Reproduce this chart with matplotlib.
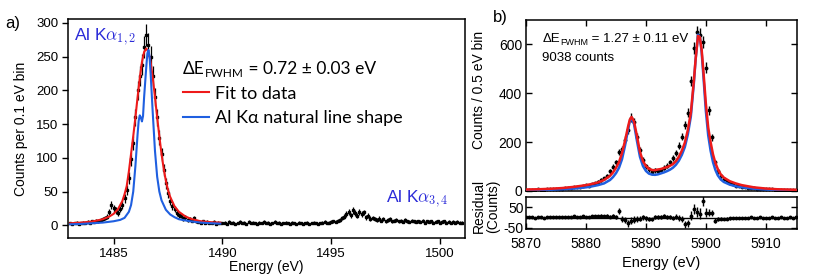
import numpy as np
import matplotlib
matplotlib.use("Agg")
import matplotlib.pyplot as plt

plt.rcParams["font.family"] = ["Liberation Sans", "DejaVu Sans"]
plt.rcParams["mathtext.fontset"] = "cm"
plt.rcParams["font.size"] = 9.5
plt.rcParams["axes.unicode_minus"] = False

# ── panel a: Al Kα, 0.1 eV bins from 1483.0 eV ──
counts_a = [
    3, 2, 3, 4, 2, 3, 4, 3, 5, 4,
    6, 5, 7, 6, 8, 9, 11, 13, 20, 30,
    25, 22, 18, 24, 30, 40, 52, 70, 98, 122,
    160, 200, 222, 238, 265, 282, 268, 250, 222, 190,
    160, 130, 105, 82, 62, 48, 36, 28, 24, 18,
    15, 14, 10, 12, 8, 9, 7, 11, 6, 5,
    4, 6, 3, 5, 4, 3, 5, 2, 4, 3,
    3, 4, 2, 5, 3, 4, 2, 3, 5, 3,
    4, 2, 5, 3, 4, 3, 2, 4, 3, 5,
    3, 4, 2, 3, 5, 3, 4, 2, 3, 4,
    3, 2, 4, 3, 2, 4, 3, 2, 3, 4,
    2, 3, 4, 3, 2, 3, 4, 5, 3, 4,
    5, 6, 5, 7, 8, 11, 13, 17, 20, 15,
    22, 18, 14, 20, 17, 19, 12, 14, 10, 11,
    9, 8, 10, 7, 9, 6, 8, 9, 6, 7,
    8, 6, 7, 5, 8, 6, 5, 7, 6, 5,
    6, 5, 7, 4, 6, 5, 6, 4, 5, 6,
    4, 5, 6, 4, 5, 3, 5, 4, 5, 4,
    4,
]
energy_a = np.round(1483.0 + 0.1 * np.arange(len(counts_a)), 1)

fit_a_e = [1483.0, 1483.5, 1484.0, 1484.5, 1484.8, 1485.0, 1485.2, 1485.4, 1485.5,
           1485.6, 1485.7, 1485.8, 1485.9, 1486.0, 1486.1, 1486.2, 1486.3, 1486.4,
           1486.5, 1486.6, 1486.7, 1486.8, 1486.9, 1487.0, 1487.1, 1487.2, 1487.3,
           1487.4, 1487.5, 1487.6, 1487.8, 1488.0, 1488.3, 1488.6, 1489.0, 1489.5, 1489.9]
fit_a_y = [3, 4, 5.5, 9, 13, 17, 24, 36, 46,
           58, 80, 106, 132, 160, 190, 218, 242, 257,
           262, 257, 242, 218, 190, 160, 132, 106, 84,
           66, 52, 42, 28, 20, 13, 9, 6, 4.5, 4]

nat_a_e = [1483.0, 1483.5, 1484.0, 1484.5, 1485.0, 1485.3, 1485.5, 1485.7, 1485.8,
           1485.9, 1486.0, 1486.1, 1486.15, 1486.2, 1486.25, 1486.3, 1486.35, 1486.4,
           1486.5, 1486.55, 1486.6, 1486.65, 1486.7, 1486.8, 1486.9, 1487.0, 1487.1,
           1487.2, 1487.4, 1487.6, 1487.8, 1488.0, 1488.5, 1489.0, 1489.5, 1489.9]
nat_a_y = [1.5, 2, 3, 4, 6, 8, 11, 20, 30,
           50, 88, 135, 155, 163, 160, 154, 162, 190,
           235, 255, 260, 250, 225, 165, 110, 72, 50,
           37, 23, 16, 12, 9, 6, 4, 3, 2.5]

# ── panel b: Mn Kα, 0.5 eV bins from 5870 eV ──
counts_b = [
    5, 4, 6, 5, 7, 6, 5, 8, 7, 9,
    8, 10, 9, 12, 14, 13, 16, 18, 17, 21,
    24, 22, 28, 33, 37, 45, 52, 62, 80, 100,
    118, 160, 172, 210, 250, 300, 282, 222, 168, 128,
    102, 88, 76, 84, 80, 86, 96, 104, 118, 134,
    156, 186, 222, 270, 320, 450, 585, 650, 640, 610,
    505, 330, 220, 118, 80, 60, 48, 40, 33, 28,
    22, 20, 17, 15, 14, 12, 11, 10, 9, 9,
    8, 7, 7, 6, 6, 5, 5, 5, 4, 4,
    4,
]
resid_b = [
    2, 1, 3, 0, 2, 1, -1, 3, 2, 4,
    1, 3, 2, 5, 4, 3, 6, 5, 4, 7,
    5, 3, 6, 8, 7, 9, 6, 8, 5, 10,
    4, 33, -6, -12, -28, -14, -10, -6, -5, 2,
    -4, -8, -8, 5, 3, 4, 6, 2, 3, -2,
    4, -3, -6, -33, -28, 10, 43, 28, 20, 81,
    25, 25, 24, -15, -8, -6, -7, -5, -4, -3,
    -4, -2, -3, -1, 0, 1, -1, 0, 1, -2,
    0, -1, 1, 0, -1, 1, 0, -1, 1, 0,
    1,
]
energy_b = 5870.0 + 0.5 * np.arange(len(counts_b))

fit_b_e = [5870, 5872, 5874, 5876, 5878, 5880, 5881, 5882, 5883, 5884, 5884.5, 5885,
           5885.5, 5886, 5886.5, 5887, 5887.3, 5887.6, 5888, 5888.5, 5889, 5889.5, 5890,
           5890.5, 5891, 5891.5, 5892, 5892.5, 5893, 5893.5, 5894, 5894.5, 5895, 5895.5,
           5896, 5896.5, 5897, 5897.5, 5898, 5898.3, 5898.7, 5899, 5899.3, 5899.6, 5900,
           5900.4, 5900.8, 5901.2, 5901.6, 5902, 5902.5, 5903, 5904, 5905, 5906, 5908,
           5910, 5912, 5915]
fit_b_y = [6, 7, 9, 12, 17, 24, 29, 35, 45, 62, 76, 95,
           118, 155, 205, 262, 292, 303, 285, 225, 160, 122, 102,
           91, 86, 85, 88, 90, 94, 98, 103, 110, 122, 140,
           165, 198, 250, 320, 450, 540, 635, 630, 580, 490, 360,
           260, 200, 150, 115, 90, 68, 55, 40, 31, 24, 15,
           10, 7, 5]
nat_b_y = [3, 4, 5, 7, 10, 15, 19, 24, 31, 45, 57, 73,
           95, 130, 185, 250, 285, 296, 275, 205, 140, 102, 82,
           71, 67, 66, 68, 72, 76, 81, 87, 95, 107, 124,
           148, 180, 232, 305, 440, 540, 640, 630, 570, 470, 330,
           228, 165, 118, 86, 64, 47, 37, 26, 19, 15, 9,
           6, 4, 3]

RED = "#ee1a1a"
BLUE = "#1f5fe0"
LABEL_BLUE = "#2b2bd8"
CAL = ["Lato", "DejaVu Sans"]


def fwhm_text(ax, x, y, rest, size, sub_size, family):
    """ΔE with a FWHM subscript, then the rest of the line."""
    t0 = ax.text(x, y, "ΔE", transform=ax.transAxes, fontsize=size,
                 family=family, va="bottom", ha="left")
    t1 = ax.annotate("FWHM", xy=(1, 0), xycoords=t0, xytext=(0.3, -1.5),
                     textcoords="offset points", fontsize=sub_size,
                     family=family, va="bottom", ha="left")
    ax.annotate(rest, xy=(1, 0), xycoords=(t1, t0), xytext=(0, 0),
                textcoords="offset points", fontsize=size,
                family=family, va="bottom", ha="left")


fig = plt.figure(figsize=(8.3, 2.74), dpi=100)

# ── a) ──
ax = fig.add_axes([0.0819, 0.131, 0.4783, 0.800])
ax.errorbar(energy_a, counts_a, yerr=np.sqrt(counts_a), fmt="s", ms=1.9,
            color="black", ecolor="black", elinewidth=0.9, capsize=0, zorder=2)
ax.plot(fit_a_e, fit_a_y, color=RED, lw=1.5, label="Fit to data", zorder=3)
ax.plot(nat_a_e, nat_a_y, color=BLUE, lw=1.5, label="Al Kα natural line shape", zorder=4)
ax.set_xlim(1482.9, 1501.15)
ax.set_ylim(-19, 306)
ax.set_xticks([1485, 1490, 1495, 1500])
ax.set_yticks([0, 50, 100, 150, 200, 250, 300])
ax.tick_params(direction="out", length=4, width=1, pad=3)
for s in ax.spines.values():
    s.set_linewidth(1.1)
ax.set_xlabel("Energy (eV)", fontsize=10, labelpad=0)
ax.set_ylabel("Counts per 0.1 eV bin", fontsize=10, labelpad=6)

leg = ax.legend(loc="upper left", bbox_to_anchor=(0.29, 0.695), frameon=False,
                prop={"family": CAL, "size": 13}, handlelength=1.45,
                handletextpad=0.3, labelspacing=0.45, borderpad=0, borderaxespad=0)
fwhm_text(ax, 0.29, 0.735, " = 0.72 ± 0.03 eV", 12.5, 8.5, CAL)

ax.text(0.016, 0.915, r"Al K$\alpha_{1,2}$", transform=ax.transAxes, color=LABEL_BLUE,
        fontsize=12.5, va="center", ha="left")
ax.text(0.80, 0.175, r"Al K$\alpha_{3,4}$", transform=ax.transAxes, color=LABEL_BLUE,
        fontsize=12.5, va="center", ha="left")
fig.text(0.006, 0.915, "a)", fontsize=12, va="center", ha="left")

# ── b) ──
bx = fig.add_axes([0.634, 0.303, 0.326, 0.624])
bx.errorbar(energy_b, counts_b, yerr=np.sqrt(counts_b), fmt="o", ms=1.8,
            color="black", ecolor="black", elinewidth=1.0, capsize=0, zorder=2)
bx.plot(fit_b_e, nat_b_y, color=BLUE, lw=1.8, zorder=3)
bx.plot(fit_b_e, fit_b_y, color=RED, lw=1.8, zorder=4)
bx.set_xlim(5870, 5915.2)
bx.set_ylim(0, 700)
bx.set_yticks([0, 200, 400, 600])
bx.set_xticks([5870, 5880, 5890, 5900, 5910])
bx.tick_params(axis="y", direction="in", length=4, width=1, pad=3, labelsize=10,
               left=True, right=True)
bx.tick_params(axis="x", direction="in", length=4, width=1, bottom=False,
               labelbottom=False, top=True)
for s in bx.spines.values():
    s.set_linewidth(1.1)
bx.set_ylabel("Counts / 0.5 eV bin", fontsize=10)
bx.yaxis.set_label_coords(-0.15, 0.59)
fwhm_text(bx, 0.06, 0.855, " = 1.27 ± 0.11 eV", 9.5, 6.5, ["Liberation Sans", "DejaVu Sans"])
bx.text(0.06, 0.78, "9038 counts", transform=bx.transAxes, fontsize=9.5, va="center")
fig.text(0.594, 0.935, "b)", fontsize=12, va="center", ha="left")

rx = fig.add_axes([0.634, 0.164, 0.326, 0.116])
rx.axhline(0, color="black", lw=1.0, zorder=1)
rx.errorbar(energy_b, resid_b, yerr=np.sqrt(counts_b), fmt="o", ms=1.8,
            color="black", ecolor="black", elinewidth=1.0, capsize=0, zorder=2)
rx.set_xlim(5870, 5915.2)
rx.set_ylim(-56, 100)
rx.set_yticks([-50, 50])
rx.set_xticks([5870, 5880, 5890, 5900, 5910])
rx.tick_params(axis="y", direction="in", length=4, width=1, pad=2, labelsize=10,
               left=True, right=True)
rx.tick_params(axis="x", direction="in", length=4, width=1, pad=6, labelsize=10)
for s in rx.spines.values():
    s.set_linewidth(1.1)
rx.set_xlabel("Energy (eV)", fontsize=10.5, labelpad=3.5)
rx.set_ylabel("Residual\n(Counts)", fontsize=10, linespacing=1.0)
rx.yaxis.set_label_coords(-0.096, 0.72)

plt.savefig("out.png", dpi=100)
plt.close(fig)
